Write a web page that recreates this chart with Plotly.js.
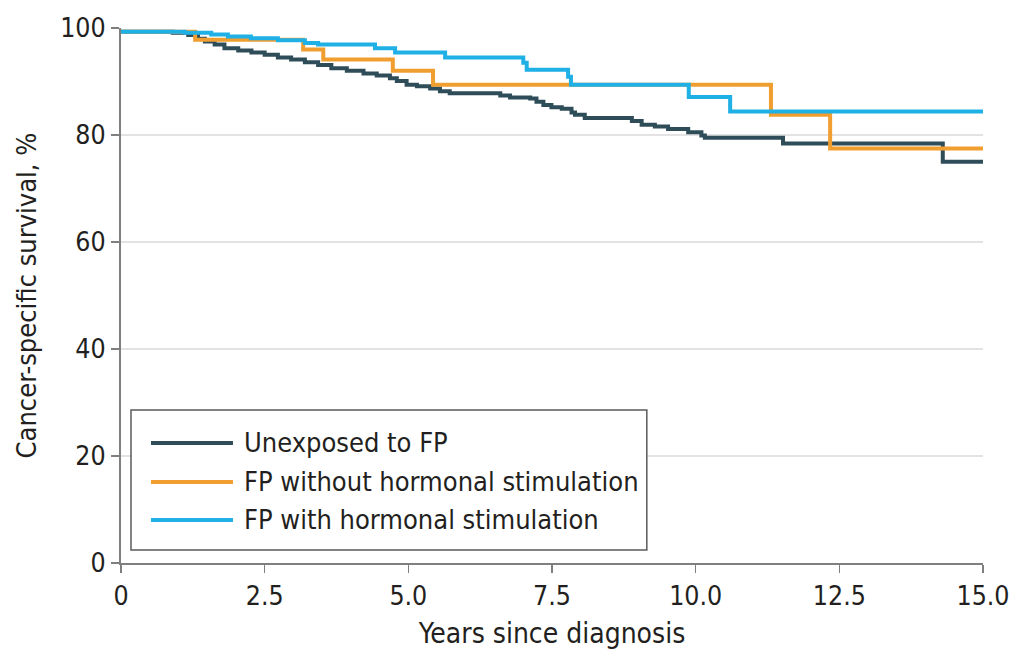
<!DOCTYPE html>
<html>
<head>
<meta charset="utf-8">
<script src="https://cdn.plot.ly/plotly-3.0.1.min.js"></script>
<style>
  html, body { margin: 0; padding: 0; background: #ffffff; }
  #chart { width: 1021px; height: 656px; }
</style>
</head>
<body>
<div id="chart"></div>
<script>
// Kaplan-Meier step data (years, survival %)
const unexposedYears = [0, 0.9, 1.17, 1.34, 1.46, 1.63, 1.80, 2.04, 2.27, 2.5, 2.73, 2.96, 3.2, 3.43, 3.66, 3.93, 4.22, 4.45, 4.68, 4.8, 4.97, 5.15, 5.38, 5.55, 5.72, 6.6, 6.77, 7.12, 7.23, 7.35, 7.49, 7.67, 7.84, 7.9, 8.07, 8.89, 9.06, 9.29, 9.52, 9.87, 10.1, 10.16, 11.52, 14.3, 15];
const unexposedSurv  = [99.3, 99.1, 98.7, 98.0, 97.5, 96.9, 96.2, 95.8, 95.4, 95.0, 94.5, 94.1, 93.6, 93.1, 92.5, 92.0, 91.5, 91.1, 90.6, 90.1, 89.4, 89.1, 88.7, 88.2, 87.8, 87.4, 87.0, 86.8, 86.2, 85.6, 85.2, 84.9, 84.2, 83.8, 83.2, 82.6, 81.9, 81.6, 81.1, 80.5, 79.9, 79.5, 78.4, 75.0, 75.0];

const noStimYears = [0, 1.29, 3.17, 3.52, 4.73, 5.43, 11.31, 12.34, 15];
const noStimSurv  = [99.3, 97.8, 96.0, 94.1, 92.0, 89.4, 83.8, 77.5, 77.5];

const stimYears = [0, 1.11, 1.57, 1.86, 2.26, 2.73, 3.2, 3.43, 4.42, 4.77, 5.64, 7.0, 7.06, 7.78, 7.83, 9.88, 10.6, 15];
const stimSurv  = [99.3, 99.1, 98.8, 98.4, 98.1, 97.7, 97.2, 96.9, 96.2, 95.4, 94.5, 93.5, 92.2, 90.9, 89.4, 87.1, 84.4, 84.4];

const seriesNames  = ["Unexposed to FP", "FP without hormonal stimulation", "FP with hormonal stimulation"];
const seriesColors = ["#2f4d58", "#f09e2f", "#1fb0e6"];

const xTickVals  = [0, 2.5, 5, 7.5, 10, 12.5, 15];
const xTickText  = ["0", "2.5", "5.0", "7.5", "10.0", "12.5", "15.0"];
const yTickVals  = [0, 20, 40, 60, 80, 100];

const FONT = "'DejaVu Sans Condensed', 'Liberation Sans', sans-serif";

const xs = [unexposedYears, noStimYears, stimYears];
const ys = [unexposedSurv, noStimSurv, stimSurv];

const traces = xs.map((x, i) => ({
  type: "scatter",
  mode: "lines",
  x: x,
  y: ys[i],
  name: seriesNames[i],
  line: { shape: "hv", color: seriesColors[i], width: 4 },
  showlegend: false,
  hoverinfo: "skip"
}));

// custom legend (box, line samples, labels) in paper coordinates
const legX0 = 0.0116, legX1 = 0.610, legY0 = 0.0243, legY1 = 0.286;
const rowY = [0.2245, 0.1515, 0.0804];
const shapes = [{
  type: "rect", xref: "paper", yref: "paper",
  x0: legX0, x1: legX1, y0: legY0, y1: legY1,
  line: { color: "#5a5a5a", width: 1.5 }, fillcolor: "#ffffff", layer: "above"
}];
const annotations = [];
seriesNames.forEach((nm, i) => {
  shapes.push({
    type: "line", xref: "paper", yref: "paper",
    x0: 0.0348, x1: 0.1299, y0: rowY[i], y1: rowY[i],
    line: { color: seriesColors[i], width: 4 }, layer: "above"
  });
  annotations.push({
    xref: "paper", yref: "paper", x: 0.1400, y: rowY[i],
    xanchor: "left", yanchor: "middle", showarrow: false,
    text: nm, font: { family: FONT, size: 27, color: "#231f20" }
  });
});

const layout = {
  width: 1021, height: 656,
  margin: { l: 121, r: 38, t: 28, b: 93, pad: 0 },
  paper_bgcolor: "#ffffff", plot_bgcolor: "#ffffff",
  showlegend: false,
  font: { family: FONT, color: "#231f20" },
  xaxis: {
    range: [0, 15],
    tickvals: xTickVals, ticktext: xTickText,
    ticks: "outside", ticklen: 8, tickwidth: 1.5, tickcolor: "#7f7f7f",
    showline: true, linecolor: "#7f7f7f", linewidth: 2,
    showgrid: false, zeroline: false,
    tickfont: { family: FONT, size: 26.5, color: "#231f20" },
    title: { text: "Years since diagnosis", font: { family: FONT, size: 28, color: "#231f20" }, standoff: 14 },
    automargin: false
  },
  yaxis: {
    range: [0, 100],
    tickvals: yTickVals,
    ticks: "outside", ticklen: 8, tickwidth: 1.5, tickcolor: "#7f7f7f",
    showline: true, linecolor: "#7f7f7f", linewidth: 2,
    showgrid: true, gridcolor: "#e3e3e3", gridwidth: 2,
    zeroline: false,
    tickfont: { family: FONT, size: 26.5, color: "#231f20" },
    title: { text: "Cancer-specific survival, %", font: { family: FONT, size: 27, color: "#231f20" }, standoff: 16 },
    automargin: false
  },
  shapes: shapes,
  annotations: annotations
};

Plotly.newPlot("chart", traces, layout, { staticPlot: true, displayModeBar: false });
</script>
</body>
</html>
